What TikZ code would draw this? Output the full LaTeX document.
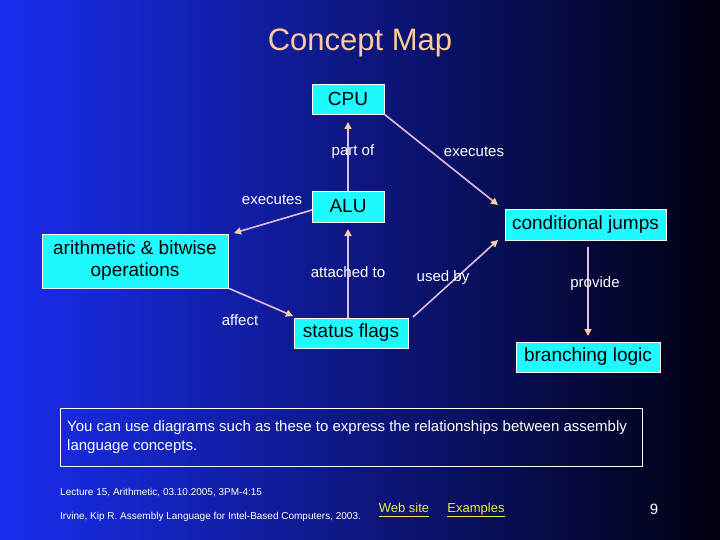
\documentclass[tikz,border=0pt]{standalone}
\usepackage{fontspec}
\setmainfont{Liberation Sans}
\usetikzlibrary{arrows.meta}
\definecolor{bgL}{RGB}{25,45,240}
\definecolor{bgM}{RGB}{8,20,185}
\definecolor{bgR}{RGB}{0,0,15}
\definecolor{boxc}{RGB}{30,250,255}
\definecolor{linec}{RGB}{225,190,225}
\definecolor{tipc}{RGB}{255,205,160}
\definecolor{titlec}{RGB}{255,204,153}
\definecolor{linkc}{RGB}{235,235,60}
\tikzset{
  concept/.style={draw=white, line width=0.8pt, fill=boxc, text=black, font=\fontsize{19}{22}\selectfont, inner sep=0pt, align=center},
  lab/.style={text=white, font=\fontsize{15}{17}\selectfont, inner sep=0pt},
  conn/.style={draw=linec, line width=1.6pt, -{Triangle[color=tipc, length=7pt, width=7pt]}},
  foot/.style={text=white, font=\fontsize{10}{12}\selectfont, inner sep=0pt, anchor=west},
  link/.style={text=linkc, font=\fontsize{13}{15}\selectfont, inner sep=0pt}
}
\begin{document}
\begin{tikzpicture}[x=1pt,y=-1pt]
\useasboundingbox (0,0) rectangle (720,540);
\shade[left color=bgL, middle color=bgM, right color=bgR] (0,0) rectangle (720,540);
\node[text=titlec, font=\fontsize{31}{34}\selectfont] (title) at (360,43) {Concept Map};
% concept boxes
\node[concept, minimum width=72pt, minimum height=30pt] (cpu) at (348,99) {CPU};
\node[concept, minimum width=72pt, minimum height=31pt] (alu) at (348,206.5) {ALU};
\node[concept, minimum width=186pt, minimum height=54pt] (arith) at (135,261) {arithmetic \& bitwise\\operations};
\node[concept, minimum width=114pt, minimum height=30pt] (flags) at (351,333) {status flags};
\node[concept, minimum width=161pt, minimum height=31pt] (cj) at (585.5,224.5) {conditional jumps};
\node[concept, minimum width=144pt, minimum height=30pt] (bl) at (588,357) {branching logic};
% helper coordinates
\coordinate (cpuB) at (348,122);
\coordinate (aluT) at (348,191);
\coordinate (aluB) at (348,229);
\coordinate (aluL) at (312,210);
\coordinate (arithTip) at (234,233);
\coordinate (arithBR) at (228,288);
\coordinate (flagsTL) at (293,316);
\coordinate (flagsT) at (348,318);
\coordinate (flagsR) at (413,317);
\coordinate (cpuBR) at (384,114);
\coordinate (cjTipA) at (498,205);
\coordinate (cjTipB) at (498,240);
\coordinate (cjB) at (588,247);
\coordinate (blT) at (588,336);
% connectors
\draw[conn] (aluT) -- (cpuB);
\draw[conn] (cpuBR) -- (cjTipA);
\draw[conn] (aluL) -- (arithTip);
\draw[conn] (arithBR) -- (flagsTL);
\draw[conn] (flagsT) -- (aluB);
\draw[conn] (flagsR) -- (cjTipB);
\draw[conn] (cjB) -- (blT);
% labels
\node[lab] (l1) at (353,152) {part of};
\node[lab] (l2) at (474,152) {executes};
\node[lab] (l3) at (272,200) {executes};
\node[lab] (l4) at (348,272) {attached to};
\node[lab] (l5) at (443,278) {used by};
\node[lab] (l6) at (595,284) {provide};
\node[lab] (l7) at (240,320) {affect};
% text box
\node[draw=white, line width=0.8pt, minimum width=582pt, minimum height=58pt, inner sep=0pt] (tbox) at (351,437) {};
\node[text=white, font=\fontsize{15}{19}\selectfont, align=left, anchor=north west, inner sep=0pt] (ttext) at (67,420) {You can use diagrams such as these to express the relationships between assembly\\language concepts.};
% footer
\node[foot] (f1) at (60,493) {Lecture 15, Arithmetic, 03.10.2005, 3PM-4:15};
\node[foot] (f2) at (60,517) {Irvine, Kip R. Assembly Language for Intel-Based Computers, 2003.};
\node[link] (w1) at (404,510) {\underline{\vphantom{p}Web site}};
\node[link] (w2) at (476,510) {\underline{\vphantom{p}Examples}};
\node[text=white, font=\fontsize{15}{17}\selectfont, inner sep=0pt] (pg) at (654,509) {9};
\end{tikzpicture}
\end{document}
